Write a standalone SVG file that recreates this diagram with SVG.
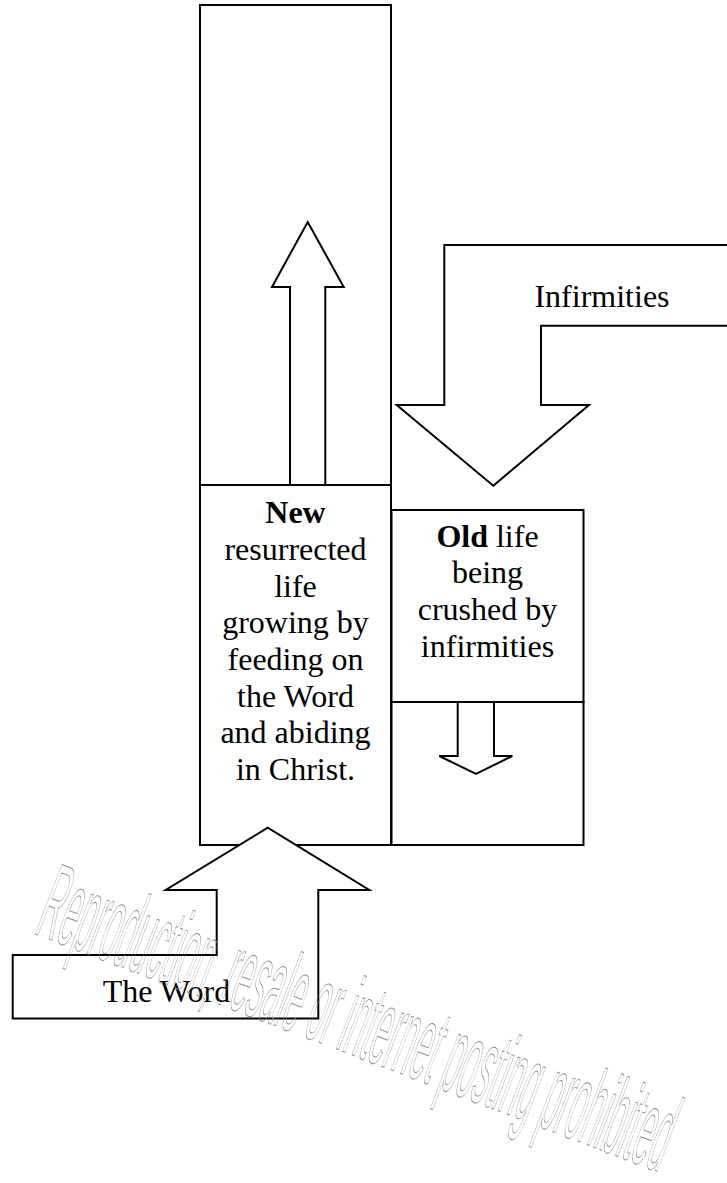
<svg xmlns="http://www.w3.org/2000/svg" width="727" height="1183" viewBox="0 0 727 1183">
<style>
.b{fill:#fff;stroke:#000;stroke-width:2;stroke-linejoin:miter}
.t{font-family:"Liberation Serif","Times New Roman",serif;font-size:32px;fill:#000;text-anchor:middle}
.bold{font-weight:bold}
.wm{font-family:"Liberation Sans",Arial,sans-serif;font-size:108px;fill:none;stroke:#8a8a8a;stroke-width:1}
</style>
<rect width="727" height="1183" fill="#fff"/>
<g id="top-box"><rect class="b" x="200" y="5" width="191" height="480"/></g>
<g id="new-life">
<rect class="b" x="200" y="485" width="191" height="360"/>
<text class="t" x="295.5" y="523"><tspan class="bold">New</tspan></text>
<text class="t" x="295.5" y="560">resurrected</text>
<text class="t" x="295.5" y="596.7">life</text>
<text class="t" x="295.5" y="633.3">growing by</text>
<text class="t" x="295.5" y="670">feeding on</text>
<text class="t" x="295.5" y="706.7">the Word</text>
<text class="t" x="295.5" y="743.3">and abiding</text>
<text class="t" x="295.5" y="780">in Christ.</text>
</g>
<g id="old-life">
<rect class="b" x="391.5" y="510" width="192" height="192"/>
<text class="t" x="487.5" y="546.7"><tspan class="bold">Old</tspan> life</text>
<text class="t" x="487.5" y="583.3">being</text>
<text class="t" x="487.5" y="620">crushed by</text>
<text class="t" x="487.5" y="656.7">infirmities</text>
</g>
<g id="below-old"><rect class="b" x="391.5" y="702" width="192" height="143"/></g>
<g id="connectors">
<polygon id="up-arrow" class="b" points="290,485 290,287 272,287 307.7,222 343.7,287 325.3,287 325.3,485"/>
<polygon id="down-arrow" class="b" points="457.7,702 457.7,756 439.3,756 476,774 512.3,756 494,756 494,702"/>
<polygon id="infirmities-arrow" class="b" points="728,245 444.3,245 444.3,405 396.7,405 493.3,485.7 589,405 541,405 541,325.7 728,325.7"/>
<polygon id="word-arrow" class="b" points="12.7,955 216.7,955 216.7,890 165.7,890 267.7,827.7 369.3,890 318.3,890 318.3,1018.5 12.7,1018.5"/>
</g>
<g id="labels">
<text class="t" x="602" y="306.7">Infirmities</text>
<text class="t" x="166.5" y="1002">The Word</text>
</g>
<text class="wm" x="0" y="0" transform="translate(33,933) rotate(20.9)" textLength="670" lengthAdjust="spacingAndGlyphs">Reproduction, resale or internet posting prohibited</text>
</svg>
